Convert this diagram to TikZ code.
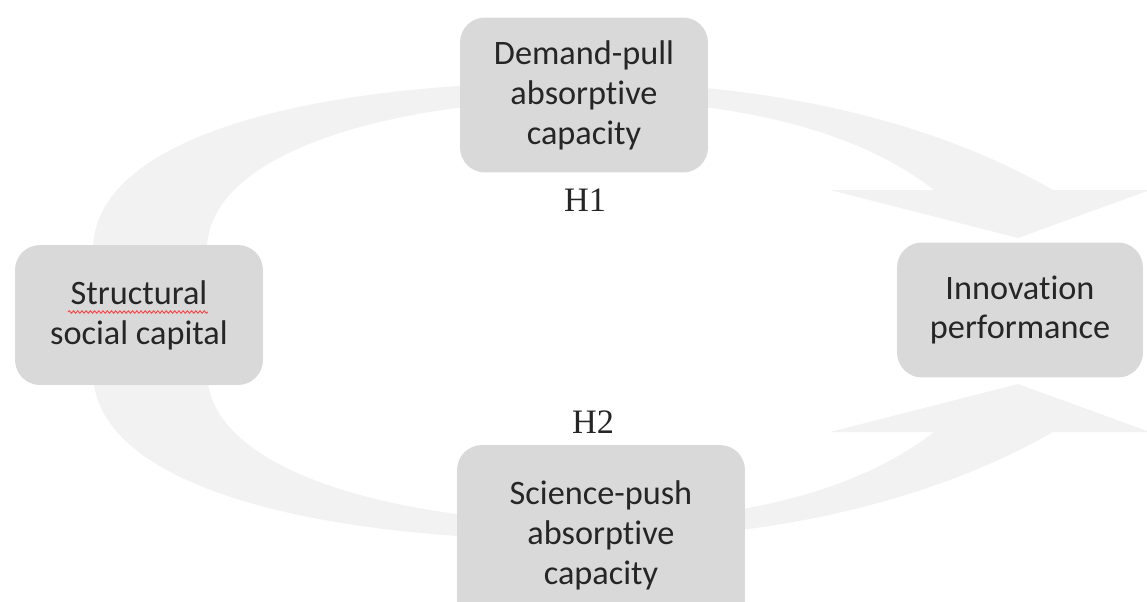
\documentclass[tikz,border=0pt]{standalone}
\usepackage{fontspec}
\setmainfont{Carlito}[Ligatures={NoCommon}]
\newfontfamily\hypfont{Liberation Serif}
\usetikzlibrary{positioning,decorations.pathmorphing}
\definecolor{boxgray}{HTML}{D9D9D9}
\definecolor{swooshgray}{HTML}{F2F2F2}
\tikzset{
    construct/.style={fill=boxgray, rounded corners=0.5cm, align=center, inner sep=0pt,
        text=black!85, font=\fontsize{19.5}{22.7}\selectfont},
    hyp/.style={text=black!85, font=\hypfont\fontsize{19.5}{22}\selectfont},
    swoosh/.style={fill=swooshgray},
    spellmark/.style={red!75, line width=0.5pt, decorate,
        decoration={snake, amplitude=0.7pt, segment length=2.4pt}},
}

\begin{document}
\begin{tikzpicture}[x=0.02cm, y=-0.02cm]
    \useasboundingbox (0,0) rectangle (1147,602);

    \foreach \flip/\off in {1/0,-1/622} {
        \begin{scope}[shift={(0,\off)}, yscale=\flip]
            \fill[swoosh] (93,300) -- (93,250)
                .. controls (93,140) and (300,82) .. (580,82)
                .. controls (780,82) and (940,125) .. (1053,190)
                -- (1150,190) -- (1018,238) -- (830,190) -- (934,190)
                .. controls (870,140) and (760,100) .. (583,100)
                .. controls (400,100) and (207,150) .. (207,250)
                -- (207,300) -- cycle;
        \end{scope}
    }

    \node[construct, minimum width=4.96cm, minimum height=3.1cm] (dpac) at (584,95) {Demand-pull\\absorptive\\capacity};
    \node[construct, minimum width=4.96cm, minimum height=2.8cm] (ssc) at (139,315) {Structural\\social capital};
    \node[construct, minimum width=4.92cm, minimum height=2.7cm] (inno) at (1020,310) {Innovation\\performance};
    \node[construct, minimum width=5.76cm, minimum height=3.6cm] (spac) at (601,535) {Science-push\\absorptive\\capacity};

    \node[hyp] (h1) at (585,200) {H1};
    \node[hyp] (h2) at (593,422) {H2};

    \draw[spellmark] (68,312) -- (208,312);
\end{tikzpicture}
\end{document}
